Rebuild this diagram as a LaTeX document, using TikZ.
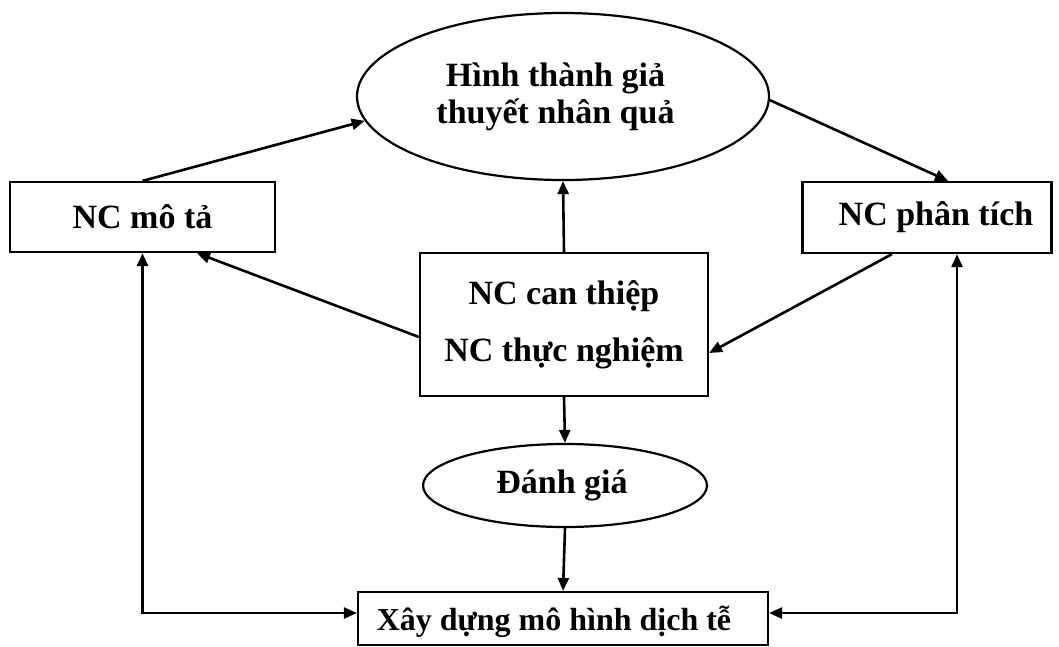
\documentclass[tikz,border=0pt]{standalone}
\usepackage{fontspec}
\setmainfont{Liberation Serif}
\usetikzlibrary{arrows.meta,shapes.geometric,calc}
\begin{document}
\begin{tikzpicture}[x=1pt,y=-1pt,
  txt/.style={font=\fontsize{34}{40}\selectfont\bfseries},
  box/.style={draw, line width=2.2pt, rectangle, inner sep=0pt, txt},
  oval/.style={draw, line width=2.2pt, ellipse, inner sep=0pt, txt},
  arr/.style={line width=2.6pt, -{Triangle[length=13pt,width=11pt]}},
  darr/.style={line width=2.6pt, {Triangle[length=13pt,width=11pt]}-{Triangle[length=13pt,width=11pt]}}]
\useasboundingbox (0,0) rectangle (1059,646);

\node[oval, minimum width=412pt, minimum height=167pt, align=center,
      font=\fontsize{34}{37}\selectfont\bfseries] (hyp) at (563,96.5)
      {Hình thành giả\kern15pt\relax\\thuyết nhân quả\kern15pt\relax};
\node[box, minimum width=265pt, minimum height=70pt] (mota) at (142.5,217) {NC mô tả};
\node[box, minimum width=249pt, minimum height=71pt] (pt) at (927,217.5) {\kern18pt NC phân tích};
\node[box, minimum width=288pt, minimum height=143pt, align=center,
      font=\fontsize{34}{57}\selectfont\bfseries] (ct) at (564,324.5)
      {NC can thiệp\\NC thực nghiệm};
\node[oval, minimum width=284pt, minimum height=83pt] (dg) at (565,485.5) {Đánh giá\kern6pt\relax};
\node[box, minimum width=410pt, minimum height=53pt, inner ysep=0pt,
      font=\fontsize{32}{38}\selectfont\bfseries,
      text height=30pt, text depth=7pt] (xd) at (563,618.5)
      {Xây dựng mô hình dịch tễ\kern18pt\relax};

\draw[arr] (mota.north) -- (hyp.187);
\draw[arr] (hyp.359) -- ($(pt.north)+(21,0)$);
\draw[arr] (ct.north) -- (hyp.south);
\draw[arr] ($(ct.west)+(0,12.5)$) -- ($(mota.south)+(54.5,0)$);
\draw[arr] ($(pt.south)+(-35,0)$) -- ($(ct.east)+(0,28.5)$);
\draw[arr] (ct.south) -- (dg.north);
\draw[arr] (dg.south) -- (xd.north);
\draw[darr] (mota.south) |- ($(xd.west)+(0,-5.5)$);
\draw[darr] ($(pt.south)+(30,0)$) |- ($(xd.east)+(0,-5.5)$);
\end{tikzpicture}
\end{document}
